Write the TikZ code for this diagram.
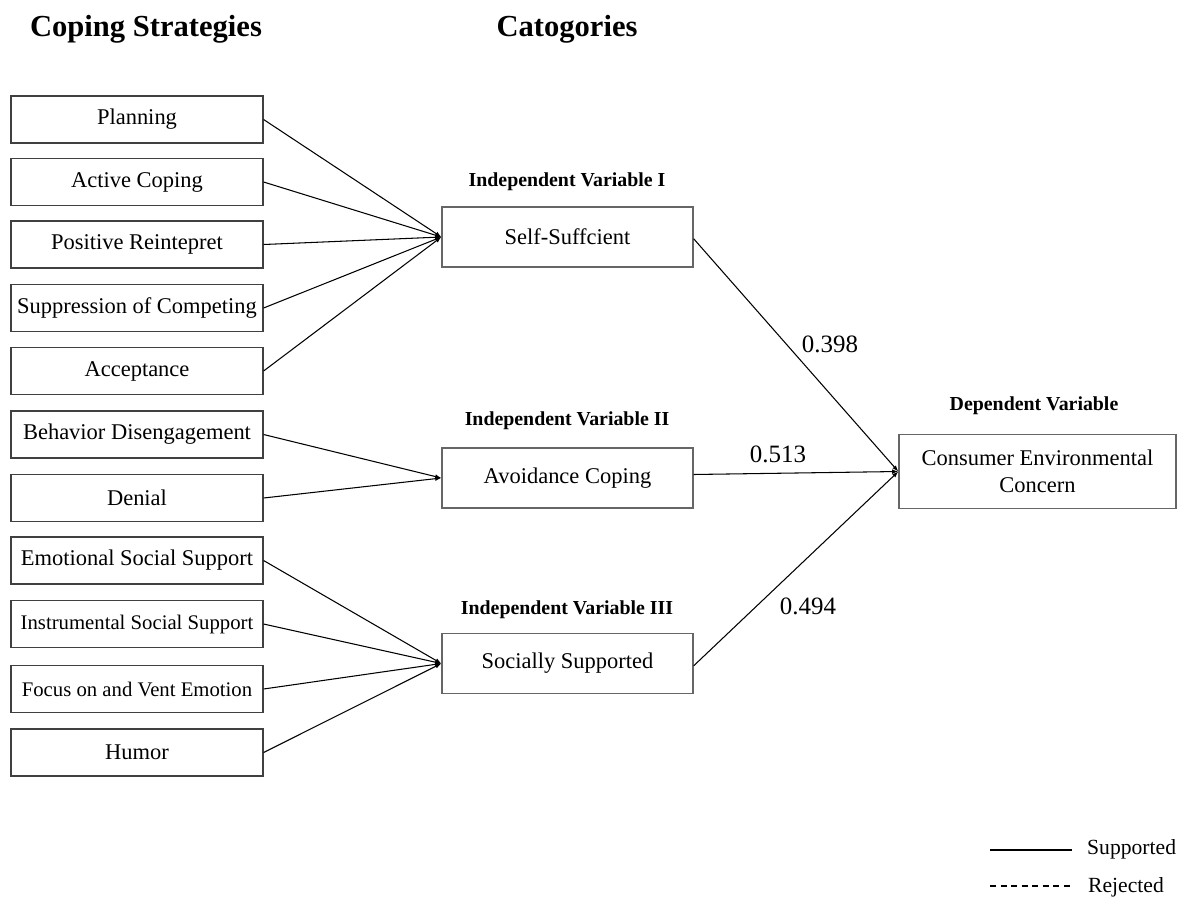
\documentclass[tikz,border=0pt]{standalone}
\usepackage{fontspec}
\setmainfont{Liberation Serif}
\usetikzlibrary{arrows.meta}

\begin{document}
\begin{tikzpicture}
[x=0.02cm,y=-0.02cm,
  leftDecorate/.style={shape=rectangle,draw=black!75,line width=0.7pt,minimum width=5.04cm,minimum height=0.94cm,inner sep=0pt,font=\fontsize{12.8}{15.4}\selectfont},%
  smallDecorate/.style={leftDecorate,font=\fontsize{11.8}{14}\selectfont},%
  midDecorate/.style={shape=rectangle,draw=black!60,line width=0.8pt,minimum width=5.02cm,minimum height=1.2cm,inner sep=0pt,font=\fontsize{12.8}{15.4}\selectfont},%
  depDecorate/.style={midDecorate,minimum width=5.54cm,minimum height=1.48cm,align=center},%
  headDecorate/.style={font=\bfseries\fontsize{17.4}{20}\selectfont},%
  varDecorate/.style={font=\bfseries\fontsize{11.3}{13}\selectfont},%
  numDecorate/.style={font=\fontsize{14.2}{16}\selectfont},%
  lineDecorate/.style={-{Latex[length=3.5pt,width=2.6pt]},line width=0.6pt}]
\useasboundingbox (0,0) rectangle (1183,897);
%% headings
\node (hcoping) at (146,29) [headDecorate] {Coping Strategies};
\node (hcat) at (567,29) [headDecorate] {Catogories};
%% coping strategies
\foreach \nodename/\y/\txt/\sty in {
  plan/119.5/Planning/leftDecorate, active/182/Active Coping/leftDecorate,
  posit/244.5/Positive Reintepret/leftDecorate,
  suppr/308/Suppression of Competing/leftDecorate, accept/371/Acceptance/leftDecorate,
  behav/434.5/Behavior Disengagement/leftDecorate, denial/498/Denial/leftDecorate,
  emot/560.5/Emotional Social Support/leftDecorate,
  instr/624/Instrumental Social Support/smallDecorate,
  focus/689/Focus on and Vent Emotion/smallDecorate, humor/752.5/Humor/leftDecorate}
{
  \node (\nodename) at (137,\y) [\sty] {\txt};
}
%% categories
\node (self) at (567.5,237) [midDecorate] {Self-Suffcient};
\node (avoid) at (567.5,478) [midDecorate] {Avoidance Coping};
\node (social) at (567.5,663.5) [midDecorate] {Socially Supported};
\node (concern) at (1037.5,471.5) [depDecorate] {Consumer Environmental\\Concern};
\node (ivone) at (567,182) [varDecorate] {Independent Variable I};
\node (ivtwo) at (567,421) [varDecorate] {Independent Variable II};
\node (ivthree) at (567,610) [varDecorate] {Independent Variable III};
\node (dv) at (1034,406) [varDecorate] {Dependent Variable};
%% edges or lines
\path
\foreach \startnode/\endnode in {
  plan/self, active/self, posit/self, suppr/self, accept/self,
  behav/avoid, denial/avoid,
  emot/social, instr/social, focus/social, humor/social}
{
  (\startnode.east) edge[lineDecorate] (\endnode.west)
};
\draw[lineDecorate] ([yshift=-1pt]self.east) -- (concern.west);
\draw[lineDecorate] ([yshift=2pt]avoid.east) -- (concern.west);
\draw[lineDecorate] ([yshift=-1.3pt]social.east) -- (concern.west);
%% path coefficients
\node (cself) at (830,344) [numDecorate] {0.398};
\node (cavoid) at (778,454) [numDecorate] {0.513};
\node (csocial) at (808,606) [numDecorate] {0.494};
%% legend
\coordinate (supA) at (990,850);
\coordinate (supB) at (1072,850);
\coordinate (rejA) at (990,886);
\coordinate (rejB) at (1072,886);
\draw[line width=0.8pt] (supA) -- (supB);
\draw[line width=0.6pt,dash pattern=on 3.5pt off 2.5pt] (rejA) -- (rejB);
\node (supported) at (1081,849) [anchor=west,font=\fontsize{12.3}{14}\selectfont] {Supported};
\node (rejected) at (1082,887) [anchor=west,font=\fontsize{12.3}{14}\selectfont] {Rejected};
\end{tikzpicture}
\end{document}
